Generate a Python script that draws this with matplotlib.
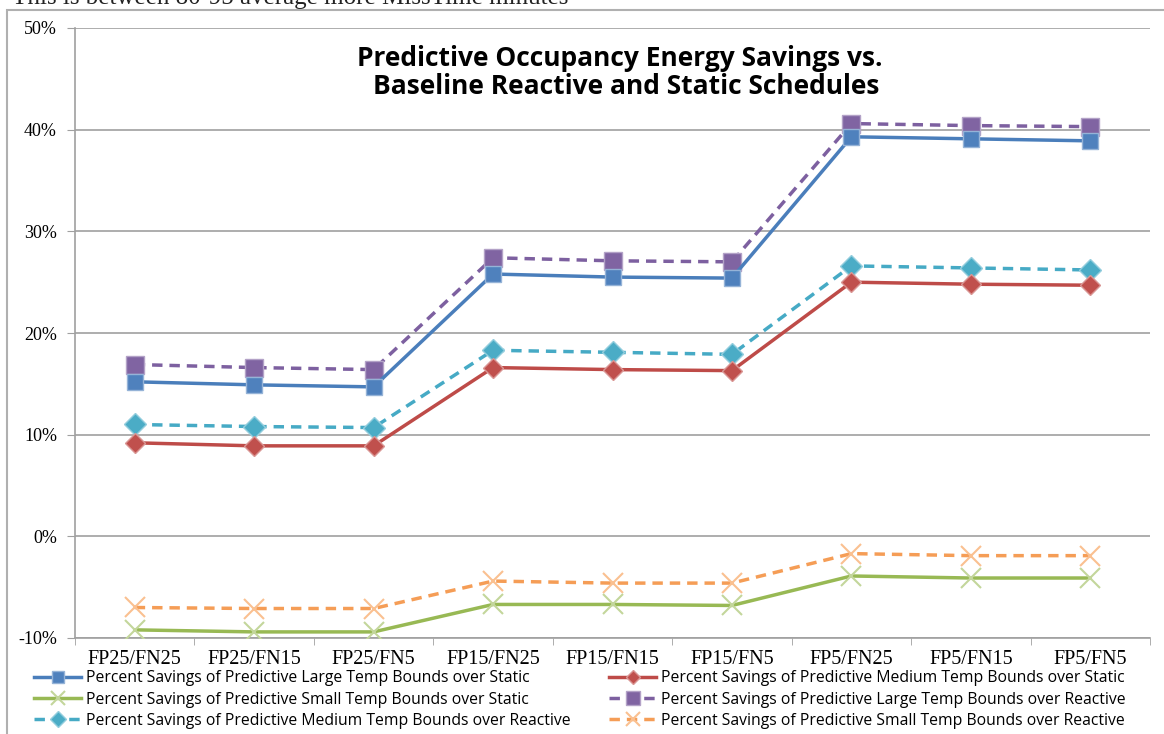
import matplotlib
matplotlib.use("Agg")
import matplotlib.pyplot as plt
from matplotlib.patches import Rectangle
import numpy as np

# categories on the x axis
cats = ["FP25/FN25", "FP25/FN15", "FP25/FN5", "FP15/FN25", "FP15/FN15",
        "FP15/FN5", "FP5/FN25", "FP5/FN15", "FP5/FN5"]

# percent savings
large_static = [15.2, 14.9, 14.7, 25.8, 25.5, 25.4, 39.3, 39.1, 38.9]
medium_static = [9.2, 8.9, 8.9, 16.6, 16.4, 16.3, 25.0, 24.8, 24.7]
small_static = [-9.2, -9.4, -9.4, -6.7, -6.7, -6.8, -3.9, -4.1, -4.1]
large_reactive = [16.9, 16.6, 16.4, 27.4, 27.1, 27.0, 40.6, 40.4, 40.3]
medium_reactive = [11.0, 10.8, 10.7, 18.3, 18.1, 17.9, 26.6, 26.4, 26.2]
small_reactive = [-7.0, -7.1, -7.1, -4.4, -4.6, -4.6, -1.7, -1.9, -1.9]

names = ["Percent Savings of Predictive Large Temp Bounds over Static",
         "Percent Savings of Predictive Medium Temp Bounds over Static",
         "Percent Savings of Predictive Small Temp Bounds over Static",
         "Percent Savings of Predictive Large Temp Bounds over Reactive",
         "Percent Savings of Predictive Medium Temp Bounds over Reactive",
         "Percent Savings of Predictive Small Temp Bounds over Reactive"]

fig = plt.figure(figsize=(11.64, 7.34), dpi=100)
ax = fig.add_axes([75/1164, 1-638/734, 1075/1164, 610/734])

x = np.arange(len(cats))
grid_c = "#a0a0a0"

# outer chart border
fig.patches.append(Rectangle((7/1164, -0.1), 1.2, 1.1 - 10/734,
                             transform=fig.transFigure, fill=False,
                             edgecolor="#b0b0b0", linewidth=1.5))

# partially cut text above chart
fig.text(12/1164, 1 + 2/734, "This is between 80-95 average more MissTime minutes",
         family="Liberation Serif", fontsize=18,
         va="center", ha="left", color="#222222")

h = {}
h["ls"], = ax.plot(x, large_static, color="#4A7EBB", lw=2.5, marker="s",
                   ms=12, mfc="#4F81BD", mec="#95B3D7", mew=1, zorder=4)
h["ms"], = ax.plot(x, medium_static, color="#BE4B48", lw=2.5, marker="D",
                   ms=10, mfc="#C0504D", mec="#D99694", mew=1, zorder=4)
h["ss"], = ax.plot(x, small_static, color="#98B954", lw=2.5, marker="x",
                   ms=14, mec="#C3D69B", mew=1.5, zorder=4)
h["lr"], = ax.plot(x, large_reactive, color="#7D60A0", lw=2.5, ls=(0, (3, 2)),
                   marker="s", ms=13, mfc="#8064A2", mec="#B3A2C7", mew=1, zorder=3)
h["mr"], = ax.plot(x, medium_reactive, color="#46AAC5", lw=2.5, ls=(0, (3, 2)),
                   marker="D", ms=11, mfc="#4BACC6", mec="#93CDDD", mew=1, zorder=3)
h["sr"], = ax.plot(x, small_reactive, color="#F59D56", lw=2.5, ls=(0, (3, 2)),
                   marker="x", ms=14, mec="#FAC090", mew=1.5, zorder=3)

ax.set_xlim(-0.5, 8.5)
ax.set_ylim(-10, 50)
ax.set_yticks(np.arange(-10, 51, 10))
ax.set_yticklabels(["%d%%" % v for v in range(-10, 51, 10)],
                   family="Liberation Serif", fontsize=13)
ax.set_xticks(x)
ax.set_xticklabels(cats, family="Liberation Serif", fontsize=14.5)
ax.set_xticks(np.arange(-0.5, 9, 1), minor=True)
ax.tick_params(axis="x", which="major", length=0, pad=9)
ax.tick_params(axis="x", which="minor", length=5, color=grid_c, direction="out")
ax.tick_params(axis="y", length=6, color=grid_c, pad=7)
ax.grid(axis="y", color=grid_c, lw=1.2)
ax.set_axisbelow(True)
for s in ["top", "right"]:
    ax.spines[s].set_visible(False)
for s in ["left", "bottom"]:
    ax.spines[s].set_color(grid_c)
    ax.spines[s].set_linewidth(1.2)

fig.text(620/1164, 1-58/734, "Predictive Occupancy Energy Savings vs.",
         family="Open Sans", weight="bold", fontsize=19, ha="center", va="center")
fig.text(626/1164, 1-87/734, "Baseline Reactive and Static Schedules",
         family="Open Sans", weight="bold", fontsize=19, ha="center", va="center")

order = ["ls", "ss", "mr", "ms", "lr", "sr"]
labs = {"ls": names[0], "ms": names[1], "ss": names[2],
        "lr": names[3], "mr": names[4], "sr": names[5]}
fig.legend([h[k] for k in order], [labs[k] for k in order], ncol=2,
           loc="upper left", bbox_to_anchor=(28/1164, 1-664/734),
           frameon=False, prop={"family": "Open Sans", "size": 11.3},
           handlelength=3.0, handletextpad=0.3, columnspacing=2.45,
           labelspacing=0.34, borderaxespad=0, markerscale=0.75)

fig.savefig("out.png", dpi=100)
